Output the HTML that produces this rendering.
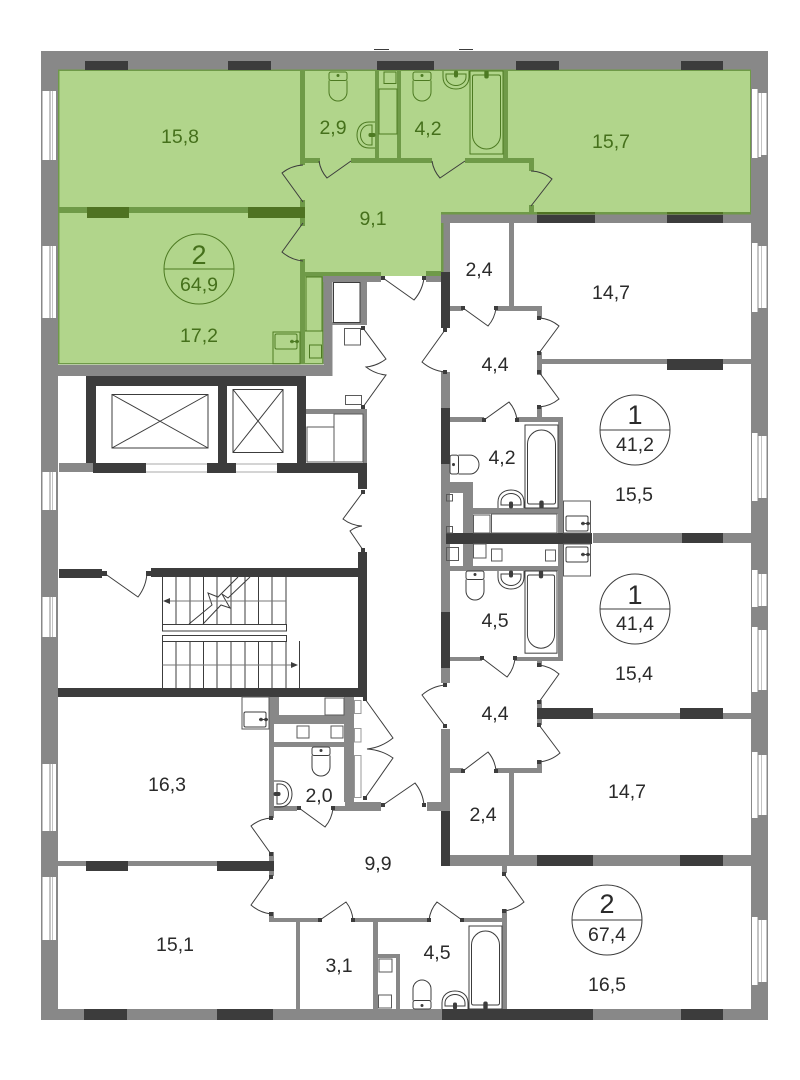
<!DOCTYPE html>
<html><head><meta charset="utf-8"><title>Floor plan</title>
<style>
html,body{margin:0;padding:0;background:#fff}
svg{display:block}
text{font-family:"Liberation Sans",sans-serif;text-anchor:middle;font-size:19.5px;fill:#2a2a2a}
.gt text{fill:#45701b}
.big{font-size:27px}
.f{fill:none;stroke:#3c3c3c;stroke-width:1}
.s{fill:none;stroke:#5a5a5a;stroke-width:1}
.gf{fill:none;stroke:#4d7a22;stroke-width:1}
</style></head><body>
<svg width="800" height="1080" viewBox="0 0 800 1080" xmlns="http://www.w3.org/2000/svg">
<defs>
<g id="toilet" fill="none" stroke="currentColor">
<rect width="18" height="8.5" rx="2"/>
<path d="M0,8.5V20A9,9 0 0 0 18,20V8.5"/>
<circle cx="9" cy="3.5" r="1" fill="currentColor"/>
</g>
<g id="sink" fill="none" stroke="currentColor">
<path d="M0,0V6C0,14 6,18 13,18C20,18 26,14 26,6V0"/>
<path d="M3,3H23V6C23,11 18,14.5 13,14.5C8,14.5 3,11 3,6Z"/>
<rect x="11.5" width="3" height="6" rx="1.2" fill="currentColor"/>
</g>
<g id="bath" fill="none" stroke="currentColor">
<rect width="33" height="83"/>
<path d="M4.5,4H28.5Q30.5,4 30.5,6V64A14,14 0 0 1 2.5,64V6Q2.5,4 4.5,4Z"/>
<rect x="14.8" width="3.4" height="7" rx="1.4" fill="currentColor"/>
</g>
<g id="wb" fill="none" stroke="currentColor">
<rect width="22" height="15" rx="1.5"/>
<path d="M24,7.5H15"/>
<circle cx="17" cy="7.5" r="1.3"/><circle cx="22" cy="7.5" r="1.3"/>
</g>
</defs>

<!-- shell and green apartment -->
<path fill="#888" fill-rule="evenodd" d="M41,51H768V1020H41ZM58,70V1009H751V70Z"/>
<path fill="#b1d58b" d="M58,70H751V212H441V276H323V364H58Z"/>

<!-- green partitions -->
<path fill="#6f9a48" d="M58,69.5h693v1.5h-693zM58,70h1.5v294h-1.5zM58,363h265v1.5h-265zM322,276h1.5v88h-1.5zM305,272h76v4.5h-76zM426,271h15v5h-15zM441,212h2.5v60h-2.5zM441,212h310v2.5h-310zM750,70h1v143h-1zM300,70h5v95h-5zM300,200h5v8h-5zM300,218h5v8h-5zM300,259h5v105h-5zM305,158h15v5h-15zM351,158h81v5h-81zM465,158h69v5h-69zM375,70h4v90h-4zM397,70h4v90h-4zM503,70h5v90h-5zM529,158h5v13h-5zM529,205h5v8h-5zM58,207h245v6h-245z"/>
<path fill="#4f7322" d="M87,207h42v11h-42zM248,207h57v11h-57zM537,212h58v3h-58zM667,212h56v3h-56z"/>

<!-- windows -->
<g fill="#fff">
<path d="M42.5,91h7v69h-7zM50.5,91h2v69h-2zM53,91h3v69h-3zM42.5,246h7v72h-7zM50.5,246h2v72h-2zM53,246h3v72h-3zM42.5,472h7v38h-7zM50.5,472h2v38h-2zM53,472h3v38h-3zM42.5,597h7v40h-7zM50.5,597h2v40h-2zM53,597h3v40h-3zM42.5,764h7v67h-7zM50.5,764h2v67h-2zM53,764h3v67h-3zM42.5,877h7v63h-7zM50.5,877h2v63h-2zM53,877h3v63h-3z"/>
<path d="M752,89h5.5v69h-5.5zM758.5,93h2.5v64h-2.5zM761.5,93h5v62h-5zM752,243h5.5v69h-5.5zM758.5,246h2.5v62h-2.5zM761.5,246h5v62h-5zM752,433h5.5v68h-5.5zM758.5,436h2.5v62h-2.5zM761.5,436h5v62h-5zM752,570h5.5v37h-5.5zM758.5,574h2.5v32h-2.5zM761.5,574h5v32h-5zM752,627h5.5v65h-5.5zM758.5,630h2.5v60h-2.5zM761.5,630h5v60h-5zM752,752h5.5v66h-5.5zM758.5,755h2.5v60h-2.5zM761.5,755h5v60h-5zM752,917h5.5v68h-5.5zM758.5,920h2.5v62h-2.5zM761.5,920h5v62h-5z"/>
</g>

<!-- grey walls -->
<path fill="#888" d="M441,214.5h310v8.5h-310zM443.5,223h6.5v50h-6.5zM426,276h15v6h-15zM323,276h58v6h-58zM323.5,282h9v94h-9zM58,365h274v11h-274zM332,322h35v3h-35zM360,280h7v45h-7zM450,306h13v5h-13zM496,306h46v5h-46zM509,223h5v83h-5zM537,306h5v12h-5zM537,352h5v23h-5zM537,359h214v5h-214zM537,407h5v13h-5zM441,372h9v36h-9zM441,464h9v108h-9zM450,417h34v5h-34zM517,417h46v5h-46zM558,417h5v244h-5zM450,482h23v11h-23zM463,482h10v88h-10zM473,508h90v6h-90zM441,566h122v5h-122zM593,533h158v10h-158zM441,570h9v42h-9zM441,668h9v15h-9zM450,657h32v4h-32zM515,657h45v4h-45zM537,661h5v6h-5zM537,700h5v25h-5zM537,713h214v6h-214zM441,729h9v82h-9zM427,802h23v9h-23zM450,768h13v5h-13zM496,768h46v5h-46zM537,760h5v13h-5zM509,773h5v82h-5zM450,855h301v11h-301zM502,866h5v7h-5zM502,909h5v100h-5zM462,918h45v4h-45zM353,918h76v4h-76zM269,918h51v4h-51zM296,922h4v87h-4zM373,922h5v87h-5zM378,954h22v4h-22zM396,958h4v51h-4zM58,861h216v5h-216zM269,697h10v25h-10zM269,715h76v9h-76zM269,722h5v96h-5zM274,742h71v5h-71zM344,697h10v105h-10zM345,802h36v9h-36zM269,806h28v5h-28zM333,806h12v5h-12zM269,852h5v9h-5zM269,866h5v10h-5zM269,912h5v8h-5zM306,409h61v5h-61zM363,414h4v49h-4zM59,463h34v9h-34z"/>

<!-- dark walls -->
<path fill="#3c3c3c" d="M85,61h43v9h-43zM228,61h43v9h-43zM377,61h57v9h-57zM516,61h43v9h-43zM681,61h42v9h-42zM374,49h15v1h-15zM459,49h14v1h-14zM441,272h9v56h-9zM441,408h9v56h-9zM441,612h9v56h-9zM441,811h9v55h-9zM667,359h56v11h-56zM537,215h58v8h-58zM667,215h56v8h-56zM446,533h146v11h-146zM682,533h41v10h-41zM537,708h56v11h-56zM680,708h43v11h-43zM537,855h56v11h-56zM680,855h43v11h-43zM84,1009h43v11h-43zM217,1009h56v11h-56zM442,1009h151v11h-151zM681,1009h42v11h-42zM86,861h42v10h-42zM217,861h57v10h-57zM86,376h220v10h-220zM86,376h10v87h-10zM218,376h9v95h-9zM297,376h9v96h-9zM93,463h53v10h-53zM207,463h29v10h-29zM277,463h90v10h-90zM358,463h9v26h-9zM59,569h43v9h-43zM102,571h5v5h-5zM146,571h5v5h-5zM151,568h216v9h-216zM358,552h9v145h-9zM58,688h309v9h-309z"/>
<path d="M146,464H207M146,472H207M236,464H277M236,472H277" stroke="#aaa"/>

<!-- elevators, shafts, stairs -->
<path class="f" d="M112,394.5h96v53.5h-96zM112,394.5L208,448M208,394.5L112,448M233,389.5h50v63h-50zM233,389.5L283,452.5M283,389.5L233,452.5M333.5,282.5h26.5v40h-26.5z"/>
<path class="s" d="M307,427h27v35h-27zM334,414h29v48h-29zM345.5,395.5h16v9h-16zM344.5,328.5h16v16.500h-16z"/>
<path class="f" d="M162.5,577V624M176,577V624M190,577V624M203.5,577V624M217,577V624M231,577V624M245,577V624M258.5,577V624M272,577V624M286,577V624M162.5,641V688M176,641V688M190,641V688M203.5,641V688M217,641V688M231,641V688M245,641V688M258.5,641V688M272,641V688M286,641V688M299.5,641V688M162.5,624.5h124v6.500h-124zM162.5,635.5h124v6h-124zM238,577L218,597L208,593L212,605L189,624M250,577L228,598L222,594L230,608L221,605L203,624"/>
<path stroke="#777" d="M170,601H286M162.5,665H292"/>
<path fill="#3c3c3c" d="M163,601l7,-3v6zM298,665l-7,-3v6z"/>

<!-- service boxes -->
<path class="s" d="M242,697h27v32h-27zM325,698h19v17h-19zM297,726h12v12h-12zM331,726h12v12h-12zM379,959h13v13h-13zM378.5,995h13v13h-13zM446.5,494.5h6v6.500h-6zM446.5,526.5h6v6.500h-6zM446.5,547.5h12v13h-12zM473.5,515h16.500v18h-16.500zM491.5,514h65.500v19h-65.500zM473.5,544h12.500v14h-12.500zM491.5,549h10.500v12h-10.500zM545.500,550h10v11h-10zM563.5,501h27v32h-27zM563.5,544h27v32h-27z"/>
<path fill="none" stroke="#999" d="M354.5,700.5h6.500v13h-6.500zM354.5,728.5h6.500v13.500h-6.500zM354.5,755.5h6.500v42h-6.500z"/>

<!-- neutral fixtures -->
<g color="#3c3c3c">
<use href="#wb" transform="translate(566,516)"/>
<use href="#wb" transform="translate(566,547)"/>
<use href="#wb" transform="translate(244,712)"/>
<use href="#toilet" transform="translate(450,474) rotate(-90) scale(1.05,1)"/>
<use href="#sink" transform="translate(498,508) scale(1,-1)"/>
<use href="#bath" transform="translate(525,508) scale(1,-1)"/>
<use href="#toilet" transform="translate(466,571)"/>
<use href="#sink" transform="translate(498,571)"/>
<use href="#bath" transform="translate(525,571) scale(.97,.99)"/>
<use href="#toilet" transform="translate(312,747)"/>
<use href="#sink" transform="translate(274,807) rotate(-90)"/>
<use href="#toilet" transform="translate(413,1009) scale(1,-1)"/>
<use href="#sink" transform="translate(442,1009) scale(1,-1)"/>
<use href="#bath" transform="translate(469,1009) scale(1,-1)"/>
</g>

<!-- green fixtures -->
<g color="#4d7a22">
<use href="#toilet" transform="translate(329,72)"/>
<use href="#toilet" transform="translate(413,72)"/>
<use href="#sink" transform="translate(375,122) rotate(90)"/>
<use href="#sink" transform="translate(443,71)"/>
<use href="#bath" transform="translate(470,71)"/>
<use href="#wb" transform="translate(275,334)"/>
</g>
<path class="gf" d="M384,72h12v11.500h-12zM379,89h18v45h-18zM306,277h16v54h-16zM309.5,345h12v13h-12zM273,332h27v32h-27zM305,331H323"/>

<!-- doors -->
<path class="f" d="M303,202L282,173A37,37 0 0 1 303,165M303,223L282,252A37,37 0 0 0 303,261M351,161L327,178A33,33 0 0 1 319,161M465,161L440,178A33,33 0 0 1 432,161M531,206L552,179A35,35 0 0 0 531,171M383,278L414,300A41,41 0 0 0 424,278M463,308L488,326A33,33 0 0 0 496,308M539,353L559,326A35,35 0 0 0 539,318M445,330L422,362A42,42 0 0 0 445,372M539,372L559,399A35,35 0 0 1 539,407M484,420L509,402A33,33 0 0 1 517,420M482,658L507,677A33,33 0 0 0 515,658M539,702L559,674A37,37 0 0 0 539,665M445,726L422,695A41,41 0 0 1 445,685M539,725L560,753A37,37 0 0 1 539,762M463,771L488,752A33,33 0 0 1 496,771M383,805L415,783A41,41 0 0 1 424,805M299,808L325,827A34,34 0 0 0 333,808M271,854L251,826A36,36 0 0 1 271,818M271,877L251,905A37,37 0 0 0 271,914M320,920L346,902A33,33 0 0 1 353,920M462,920L437,902A33,33 0 0 0 429,920M504,874L524,902A37,37 0 0 1 504,911M104,573L138,597A43,43 0 0 0 147,572M363,328L386,359A39,39 0 0 1 366,367A39,39 0 0 0 386,375L363,407M363,492L343,519A34,34 0 0 0 362,526A24,24 0 0 0 350,531L363,550M365,699L393,738A50,50 0 0 1 367,749A50,50 0 0 1 393,758L365,798"/>
<path fill="#3c3c3c" d="M361,405h4v4h-4zM361,326h4v4h-4zM361,490h4v4h-4zM361,548h4v4h-4zM363,697h4v4h-4zM363,796h4v4h-4zM381,276h4v4h-4zM422,276h4v4h-4zM461,306h4v4h-4zM494,306h4v4h-4zM537,316h4v4h-4zM537,351h4v4h-4zM537,370h4v4h-4zM537,405h4v4h-4zM443,328h4v4h-4zM443,370h4v4h-4zM482,418h4v4h-4zM515,418h4v4h-4zM480,656h4v4h-4zM513,656h4v4h-4zM537,663h4v4h-4zM537,700h4v4h-4zM537,723h4v4h-4zM537,760h4v4h-4zM443,683h4v4h-4zM443,724h4v4h-4zM461,769h4v4h-4zM494,769h4v4h-4zM381,803h4v4h-4zM422,803h4v4h-4zM297,806h4v4h-4zM331,806h4v4h-4zM269,816h4v4h-4zM269,852h4v4h-4zM269,875h4v4h-4zM269,912h4v4h-4zM318,918h4v4h-4zM351,918h4v4h-4zM427,918h4v4h-4zM460,918h4v4h-4zM502,872h4v4h-4zM502,909h4v4h-4z"/>

<!-- unit circles -->
<path class="gf" d="M164,269H234"/><circle cx="199" cy="269" r="35" class="gf"/>
<path class="f" d="M600,430H670M600,609H670M572,920H642"/>
<circle cx="635" cy="430" r="35" class="f"/><circle cx="635" cy="609" r="35" class="f"/><circle cx="607" cy="920" r="35" class="f"/>

<!-- labels -->
<g class="gt">
<text x="180" y="143">15,8</text><text x="333" y="134">2,9</text><text x="428" y="135">4,2</text><text x="611" y="148">15,7</text><text x="373" y="225">9,1</text><text x="199" y="342">17,2</text><text x="199" y="264" class="big">2</text><text x="199" y="291">64,9</text>
</g>
<text x="479" y="276">2,4</text><text x="611" y="299">14,7</text><text x="495" y="371">4,4</text><text x="502" y="464">4,2</text><text x="634" y="501">15,5</text><text x="495" y="627">4,5</text><text x="634" y="680">15,4</text><text x="495" y="720">4,4</text><text x="627" y="798">14,7</text><text x="483" y="821">2,4</text><text x="167" y="791">16,3</text><text x="319" y="802">2,0</text><text x="378" y="870">9,9</text><text x="175" y="951">15,1</text><text x="339" y="972">3,1</text><text x="437" y="959">4,5</text><text x="607" y="991">16,5</text>
<text x="635" y="424" class="big">1</text><text x="635" y="451">41,2</text><text x="635" y="604" class="big">1</text><text x="635" y="630">41,4</text><text x="607" y="913" class="big">2</text><text x="607" y="941">67,4</text>
</svg>
</body></html>
